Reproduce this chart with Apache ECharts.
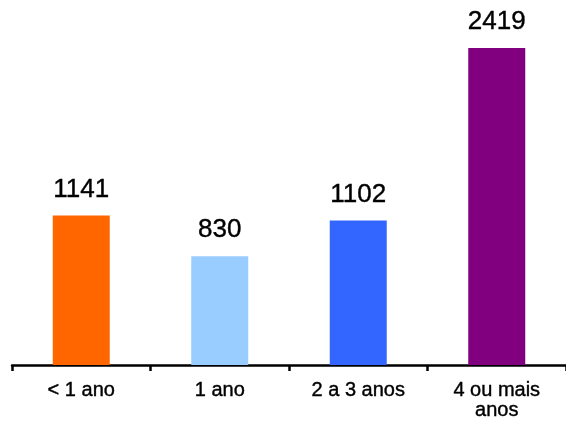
<!DOCTYPE html>
<html>
<head>
<meta charset="utf-8">
<script src="https://cdn.jsdelivr.net/npm/echarts@6/dist/echarts.min.js"></script>
<style>
    html, body { margin: 0; padding: 0; background: #fff; }
    #chart { width: 566px; height: 421px; }
</style>
</head>
<body>
<div id="chart"></div>
<script>
    var categories = ['< 1 ano', '1 ano', '2 a 3 anos', '4 ou mais\nanos'];
    var values = [1141, 830, 1102, 2419];
    var colors = ['#FF6600', '#99CCFF', '#3366FF', '#800080'];

    var myChart = echarts.init(document.getElementById('chart'));

    var option = {
        animation: false,
        grid: {
            left: 12,
            width: 560,
            top: 48,
            bottom: 56
        },
        xAxis: {
            type: 'category',
            data: categories,
            axisLine: {
                lineStyle: { color: '#000', width: 2.5 }
            },
            axisTick: {
                show: true,
                length: 6,
                lineStyle: { color: '#000', width: 2.5 }
            },
            axisLabel: {
                color: '#000',
                fontFamily: 'Liberation Sans',
                fontSize: 20,
                lineHeight: 20,
                margin: 15,
                interval: 0,
                textBorderColor: '#000',
                textBorderWidth: 0.4
            }
        },
        yAxis: {
            type: 'value',
            min: 0,
            max: 2419,
            show: false
        },
        series: [{
            type: 'bar',
            barWidth: 57,
            data: values.map(function (v, i) {
                return { value: v, itemStyle: { color: colors[i] } };
            }),
            label: {
                show: true,
                position: 'top',
                distance: 13,
                color: '#000',
                fontFamily: 'Liberation Sans',
                fontSize: 26,
                lineHeight: 26,
                textBorderColor: '#000',
                textBorderWidth: 0.4
            }
        }]
    };

    myChart.setOption(option);
</script>
</body>
</html>
